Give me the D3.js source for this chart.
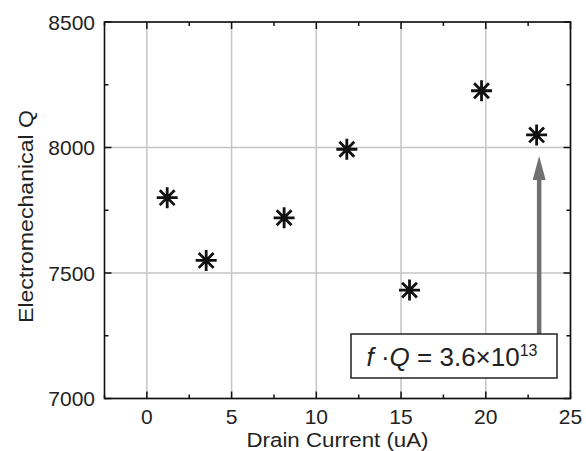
<!DOCTYPE html>
<html>
<head>
<meta charset="utf-8">
<script src="https://cdn.jsdelivr.net/npm/d3@7"></script>
<style>
  body { margin: 0; background: #fff; }
  svg { display: block; font-family: "Liberation Sans", Arial, sans-serif; }
</style>
</head>
<body>
<div id="chart"></div>
<script>
  // measured data (drain current in uA, electromechanical Q)
  const current = [1.2, 3.5, 8.1, 11.8, 15.5, 19.75, 23.0];
  const qValues = [7800, 7550, 7720, 7993, 7432, 8226, 8050];
  const xTicks = [0, 5, 10, 15, 20, 25];
  const yTicks = [7000, 7500, 8000, 8500];
  const xMinor = [-2.5, 2.5, 7.5, 12.5, 17.5, 22.5];
  const yMinor = [7250, 7750, 8250];

  const W = 586, H = 451;
  const svg = d3.select('#chart').append('svg').attr('width', W).attr('height', H);

  let x = d3.scaleLinear().domain([-2.5, 25]).range([104.5, 570.5]);
  let y = d3.scaleLinear().domain([7000, 8500]).range([398.5, 22]);

  // grid
  let grid = svg.append('g').attr('stroke', '#c4c4c4').attr('stroke-width', 1.5);
  xTicks.forEach(t => grid.append('line')
    .attr('x1', x(t)).attr('x2', x(t)).attr('y1', y(8500)).attr('y2', y(7000)));
  yTicks.forEach(t => grid.append('line')
    .attr('x1', x(-2.5)).attr('x2', x(25)).attr('y1', y(t)).attr('y2', y(t)));

  // ticks (inward, all four sides)
  let ticks = svg.append('g').attr('stroke', '#111').attr('stroke-width', 1.5);
  let tick = (xv, yv, dx, dy) => ticks.append('line')
    .attr('x1', x(xv)).attr('y1', y(yv)).attr('x2', x(xv) + dx).attr('y2', y(yv) + dy);
  xTicks.forEach(t => { tick(t, 7000, 0, -7); tick(t, 8500, 0, 7); });
  xMinor.forEach(t => { tick(t, 7000, 0, -4); tick(t, 8500, 0, 4); });
  yTicks.forEach(t => { tick(-2.5, t, 7, 0); tick(25, t, -7, 0); });
  yMinor.forEach(t => { tick(-2.5, t, 4, 0); tick(25, t, -4, 0); });

  // box
  svg.append('rect')
    .attr('x', x(-2.5)).attr('y', y(8500))
    .attr('width', x(25) - x(-2.5)).attr('height', y(7000) - y(8500))
    .attr('fill', 'none').attr('stroke', '#111').attr('stroke-width', 1.6);

  // tick labels
  svg.append('g').selectAll('text').data(xTicks).join('text')
    .attr('x', d => x(d)).attr('y', 423.5)
    .attr('text-anchor', 'middle').attr('font-size', 21).attr('fill', '#222')
    .text(d => d);
  svg.append('g').selectAll('text').data(yTicks).join('text')
    .attr('x', 95).attr('y', d => y(d) + 7.5)
    .attr('text-anchor', 'end').attr('font-size', 21).attr('fill', '#222')
    .text(d => d);

  // axis titles (reference glyphs are a bit wider than Liberation Sans)
  svg.append('text')
    .attr('x', (x(-2.5) + x(25)) / 2).attr('y', 447)
    .attr('text-anchor', 'middle').attr('font-size', 20.5).attr('fill', '#222')
    .attr('textLength', 182).attr('lengthAdjust', 'spacingAndGlyphs')
    .text('Drain Current (uA)');
  svg.append('text')
    .attr('transform', 'translate(32.5,216.5) rotate(-90)')
    .attr('text-anchor', 'middle').attr('font-size', 21).attr('fill', '#222')
    .attr('textLength', 213).attr('lengthAdjust', 'spacingAndGlyphs')
    .text('Electromechanical Q');

  // arrow
  let ax = x(23.15);
  svg.append('line')
    .attr('x1', ax).attr('x2', ax).attr('y1', 334).attr('y2', 176)
    .attr('stroke', '#707070').attr('stroke-width', 4.5);
  svg.append('path')
    .attr('d', `M${ax},156 L${ax - 6.5},180 L${ax + 6.5},180 Z`)
    .attr('fill', '#707070');

  // annotation box
  svg.append('rect')
    .attr('x', 351).attr('y', 334).attr('width', 206).attr('height', 44)
    .attr('fill', '#fff').attr('stroke', '#222').attr('stroke-width', 1.5);
  let label = svg.append('text')
    .attr('x', 452).attr('y', 365.5)
    .attr('text-anchor', 'middle').attr('font-size', 26).attr('fill', '#222');
  label.append('tspan').attr('font-style', 'italic').text('f');
  label.append('tspan').text(' \u00B7');
  label.append('tspan').attr('font-style', 'italic').text('Q');
  label.append('tspan').text(' = 3.6\u00D710');
  label.append('tspan').attr('font-size', 16).attr('dy', -10).text('13');

  // asterisk markers
  let r = 10.5, d45 = r * Math.SQRT1_2;
  let star = `M${-r},0L${r},0M0,${-r}L0,${r}M${-d45},${-d45}L${d45},${d45}M${-d45},${d45}L${d45},${-d45}`;
  svg.append('g').selectAll('path').data(current).join('path')
    .attr('transform', (d, i) => `translate(${x(d)},${y(qValues[i])})`)
    .attr('d', star)
    .attr('fill', 'none').attr('stroke', '#111').attr('stroke-width', 2.8);
</script>
</body>
</html>
